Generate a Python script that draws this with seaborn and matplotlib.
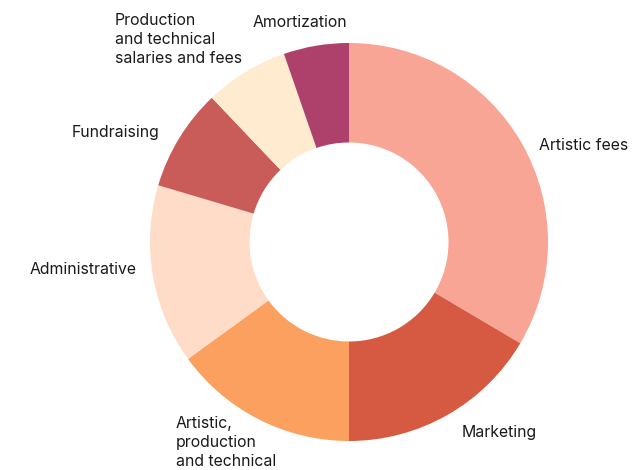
import matplotlib
matplotlib.use("Agg")
import matplotlib.pyplot as plt
import seaborn as sns

categories = ["Artistic fees", "Marketing", "Artistic,\nproduction\nand technical",
              "Administrative", "Fundraising",
              "Production\nand technical\nsalaries and fees", "Amortization"]
shares = [33.5, 16.5, 15.0, 14.6, 8.3, 6.8, 5.3]
colors = ["#F8A595", "#D55A41", "#FBA05F", "#FEDCC8", "#C95B58", "#FEEBD0", "#AD416B"]

sns.set_theme(style="white")
plt.rcParams['font.family'] = ['Inter', 'DejaVu Sans']

W, H = 634, 470
cx, cy, R = 349, 242, 199
fig = plt.figure(figsize=(W / 100, H / 100), dpi=100)
ax = fig.add_axes([(cx - R) / W, (H - cy - R) / H, 2 * R / W, 2 * R / H])

ax.pie(shares, colors=sns.color_palette(colors), startangle=90, counterclock=False,
       radius=1, wedgeprops=dict(width=0.5, linewidth=0))
ax.set_xlim(-1, 1)
ax.set_ylim(-1, 1)
ax.set_axis_off()

# label anchors in pixel space (left edge, top)
label_pos = {
    "Artistic fees": (539, 138),
    "Marketing": (462, 425),
    "Artistic,\nproduction\nand technical": (176, 416),
    "Administrative": (30, 262),
    "Fundraising": (72, 125),
    "Production\nand technical\nsalaries and fees": (115, 13),
    "Amortization": (253, 15),
}
for name in categories:
    px, py = label_pos[name]
    ax.text((px - cx) / R, (cy - py) / R, name, ha="left", va="top",
            fontsize=11.4, color="#1a1a1a", linespacing=1.35, clip_on=False)

fig.savefig("out.png", dpi=100)
